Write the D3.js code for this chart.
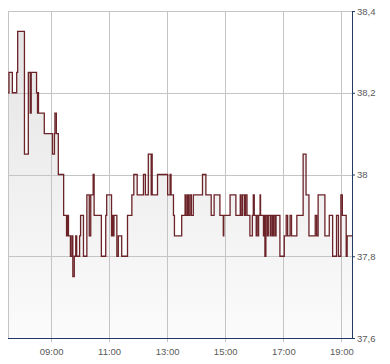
<!DOCTYPE html>
<html><head><meta charset="utf-8">
<script src="https://cdn.jsdelivr.net/npm/d3@7"></script>
<style>
html,body{margin:0;padding:0;background:#fff;}
svg{display:block;}
text{font-family:"Liberation Sans",Arial,sans-serif;font-size:9.5px;fill:#5a5a5a;}
</style></head>
<body>
<svg id="c" width="390" height="364"></svg>
<script>
const times = ["07:31","07:33","07:40","07:49","07:51","08:05","08:13","08:17","08:19","08:30","08:32","08:33","08:34","08:46","09:03","09:07","09:08","09:11","09:15","09:26","09:32","09:34","09:36","09:40","09:43","09:45","09:48","09:51","09:53","09:59","10:01","10:07","10:14","10:19","10:22","10:27","10:29","10:44","10:53","10:55","11:05","11:07","11:08","11:10","11:16","11:19","11:26","11:38","11:47","11:51","11:58","12:11","12:15","12:21","12:27","12:28","12:29","12:40","13:01","13:06","13:08","13:13","13:15","13:30","13:37","13:39","13:42","13:44","13:47","13:50","13:54","14:13","14:20","14:31","14:37","14:49","14:56","14:57","15:10","15:22","15:31","15:33","15:36","15:40","15:42","15:45","15:48","15:51","15:56","15:58","16:00","16:04","16:05","16:08","16:09","16:12","16:13","16:19","16:21","16:22","16:24","16:27","16:29","16:33","16:35","16:38","16:40","16:43","16:45","16:53","17:02","17:06","17:09","17:14","17:17","17:28","17:41","17:47","17:53","18:06","18:09","18:12","18:26","18:35","18:42","18:50","18:54","18:59","19:02","19:10","19:12","19:22"];
const values = [38.20,38.25,38.20,38.25,38.35,38.05,38.25,38.15,38.25,38.20,38.15,38.20,38.15,38.10,38.05,38.10,38.15,38.10,38.00,37.90,37.85,37.90,37.85,37.80,37.85,37.75,37.80,37.85,37.80,37.85,37.90,37.80,37.95,37.85,37.95,38.00,37.90,37.80,37.90,37.95,37.85,37.90,37.85,37.90,37.80,37.85,37.80,37.90,37.95,38.00,37.95,38.00,37.95,38.05,37.95,38.05,37.95,38.00,37.95,38.00,37.95,37.90,37.85,37.90,37.95,37.90,37.95,37.90,37.95,37.90,37.95,38.00,37.95,37.90,37.95,37.90,37.85,37.90,37.95,37.90,37.95,37.90,37.95,37.90,37.95,37.90,37.90,37.85,37.90,37.95,37.90,37.85,37.90,37.85,37.90,37.95,37.90,37.85,37.90,37.80,37.90,37.85,37.90,37.85,37.90,37.85,37.90,37.85,37.90,37.80,37.85,37.90,37.85,37.90,37.85,37.90,38.05,37.95,37.85,37.90,37.85,37.95,37.85,37.90,37.80,37.90,37.80,37.95,37.90,37.80,37.85,37.85];
const xTickLabels = ["09:00","11:00","13:00","15:00","17:00","19:00"];
const yTickValues = [37.6,37.8,38.0,38.2,38.4];
const domainStart = "07:31", domainEnd = "19:22";

const parse = d3.timeParse("%H:%M");
const data = times.map((t,i)=>({t:parse(t), v:values[i]}));

const L=8, R=352, T=11, B=338;
const svg = d3.select("#c");
const x = d3.scaleTime().domain([parse(domainStart), parse(domainEnd)]).range([L,R]);
const y = d3.scaleLinear().domain([37.6,38.4]).range([B,T]);

const defs = svg.append("defs");
const g = defs.append("linearGradient").attr("id","fillg").attr("gradientUnits","userSpaceOnUse")
  .attr("x1",0).attr("y1",T).attr("x2",0).attr("y2",B);
g.append("stop").attr("offset","0").attr("stop-color","#e3e3e3");
g.append("stop").attr("offset","1").attr("stop-color","#fbfbfb");
defs.append("clipPath").attr("id","clip").append("rect").attr("x",L).attr("y",T).attr("width",R-L).attr("height",B-T);

// area
svg.append("path").datum(data).attr("clip-path","url(#clip)")
  .attr("fill","url(#fillg)")
  .attr("d", d3.area().curve(d3.curveStepAfter).x(d=>x(d.t)).y0(B).y1(d=>y(d.v)));

// grid
const xt = xTickLabels.map(parse);
svg.append("g").selectAll("line").data(xt).join("line")
  .attr("x1",d=>Math.round(x(d))+0.5).attr("x2",d=>Math.round(x(d))+0.5)
  .attr("y1",T).attr("y2",B+4).attr("stroke","#c4c4c4").attr("stroke-width",1);
svg.append("g").selectAll("line").data(yTickValues.filter(v=>v>37.6)).join("line")
  .attr("x1",L).attr("x2",R).attr("y1",d=>Math.round(y(d))+0.5).attr("y2",d=>Math.round(y(d))+0.5)
  .attr("stroke","#c4c4c4").attr("stroke-width",1);
svg.append("line").attr("x1",L+0.5).attr("x2",L+0.5).attr("y1",T).attr("y2",B).attr("stroke","#c4c4c4");

// line
svg.append("path").datum(data).attr("clip-path","url(#clip)")
  .attr("fill","none").attr("stroke","#6b2328").attr("stroke-width",1.3)
  .attr("d", d3.line().curve(d3.curveStepAfter).x(d=>x(d.t)).y(d=>y(d.v)));

// axes
const xAxis = d3.axisBottom(x).tickValues(xt).tickFormat(d3.timeFormat("%H:%M")).tickSize(0).tickPadding(10);
const gx = svg.append("g").attr("transform",`translate(0,${B})`).call(xAxis);
gx.select(".domain").remove();
gx.selectAll("text").attr("fill","#5a5a5a").style("font-size","9.5px").attr("font-family",null);

const yAxis = d3.axisRight(y).tickValues(yTickValues).tickSize(3).tickPadding(2)
  .tickFormat(d=>d3.format(".1f")(d).replace(".",",").replace(/,0$/,""));
const gy = svg.append("g").attr("transform",`translate(${R},0)`).call(yAxis);
gy.select(".domain").remove();
gy.selectAll("line").attr("stroke","#1f3a63");
gy.selectAll("text").attr("fill","#5a5a5a").style("font-size","9.5px").attr("font-family",null);

svg.append("line").attr("x1",L).attr("x2",R+0.5).attr("y1",B+0.5).attr("y2",B+0.5).attr("stroke","#1f3a63");
svg.append("line").attr("x1",R+0.5).attr("x2",R+0.5).attr("y1",T).attr("y2",B+0.5).attr("stroke","#1f3a63");
</script>
</body></html>
